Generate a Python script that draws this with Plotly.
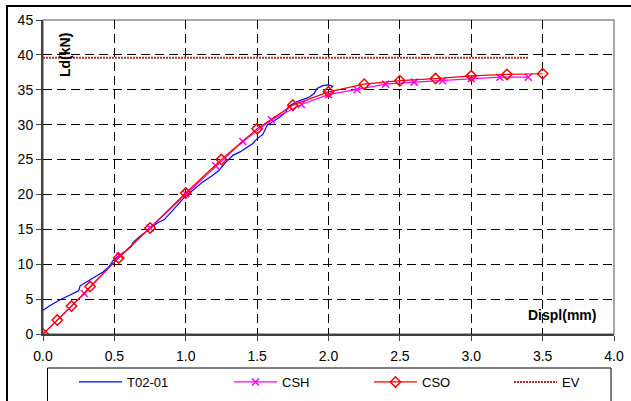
import plotly.graph_objects as go

# ---- data ----
t02_x = [0, 0.05, 0.12, 0.18, 0.25, 0.26, 0.30, 0.36, 0.42, 0.46, 0.49, 0.53, 0.58, 0.62, 0.63,
         0.68, 0.75, 0.80, 0.85, 0.89, 0.95, 1.00, 1.05, 1.12, 1.18, 1.23, 1.28, 1.33, 1.38, 1.43,
         1.47, 1.50, 1.54, 1.57, 1.62, 1.66, 1.70, 1.72, 1.78, 1.83, 1.87, 1.90, 1.92, 1.96, 2.00,
         2.03, 2.02]
t02_y = [3.4, 4.1, 4.9, 5.5, 6.2, 6.9, 7.4, 8.1, 8.9, 9.6, 10.5, 11.2, 11.9, 12.6, 13.1,
         14.0, 15.1, 15.9, 16.4, 17.3, 18.8, 19.8, 20.6, 21.8, 22.6, 23.4, 24.6, 25.6, 26.1, 26.7,
         27.3, 28.0, 28.6, 29.9, 30.6, 31.1, 31.8, 32.6, 33.3, 33.7, 34.0, 34.5, 35.2, 35.6, 35.7,
         35.5, 35.3]

csh_x = [0, 0.29, 0.54, 0.75, 1.0, 1.21, 1.40, 1.60, 1.81, 2.0, 2.2, 2.4, 2.6, 2.8, 3.0, 3.2, 3.4]
csh_y = [0, 5.8, 11.2, 15.2, 20.1, 24.1, 27.6, 30.7, 32.9, 34.3, 35.0, 35.8, 36.1, 36.3, 36.6, 36.8, 36.8]

cso_x = [0, 0.1, 0.2, 0.33, 0.53, 0.75, 1.0, 1.25, 1.5, 1.75, 2.0, 2.25, 2.5, 2.75, 3.0, 3.25, 3.5]
cso_y = [0, 2.0, 4.0, 6.8, 10.9, 15.2, 20.2, 25.0, 29.4, 32.8, 34.7, 35.8, 36.3, 36.6, 37.0, 37.2, 37.3]

ev_x = [0, 3.4]
ev_y = [39.6, 39.6]

x_ticks = [0, 0.5, 1.0, 1.5, 2.0, 2.5, 3.0, 3.5, 4.0]
x_tick_text = ["0.0", "0.5", "1.0", "1.5", "2.0", "2.5", "3.0", "3.5", "4.0"]
y_ticks = [0, 5, 10, 15, 20, 25, 30, 35, 40, 45]

FONT = "Liberation Sans, Arial, sans-serif"

fig = go.Figure()
fig.add_trace(go.Scatter(x=t02_x, y=t02_y, mode="lines", name="T02-01", legend="legend",
                         line=dict(color="#0000FF", width=1.2)))
fig.add_trace(go.Scatter(x=csh_x, y=csh_y, mode="lines+markers", name="CSH", legend="legend2",
                         line=dict(color="#FF00FF", width=1.2),
                         marker=dict(symbol="x-thin-open", size=7,
                                     line=dict(color="#FF00FF", width=1.5), color="#FF00FF")))
fig.add_trace(go.Scatter(x=cso_x, y=cso_y, mode="lines+markers", name="CSO", legend="legend3",
                         line=dict(color="#FF0000", width=1.2),
                         marker=dict(symbol="diamond-open", size=8,
                                     line=dict(color="#FF0000", width=1.5), color="#FF0000")))
fig.add_trace(go.Scatter(x=ev_x, y=ev_y, mode="lines", name="EV", legend="legend4",
                         line=dict(color="#A83232", width=2, dash="2px,1px")))

W, H = 631, 401
L, R, T, B = 43, 17, 20, 67
pw, ph = W - L - R, H - T - B

def px(xp):
    return (xp - L) / pw

def py(yp):
    return (H - B - yp) / ph

shapes = [
    # plot area border (gray, top/right)
    dict(type="rect", xref="paper", yref="paper", x0=0, x1=1, y0=0, y1=1,
         line=dict(color="#8C8C8C", width=1.5), layer="below"),
    # outer chart border (cropped)
    dict(type="rect", xref="paper", yref="paper", x0=px(7), x1=px(645), y0=py(415), y1=py(6),
         line=dict(color="#000000", width=2)),
    # legend box
    dict(type="rect", xref="paper", yref="paper", x0=px(47.5), x1=px(611), y0=py(412), y1=py(368),
         line=dict(color="#000000", width=1)),
]

axis_common = dict(
    showgrid=True, gridcolor="#000000", gridwidth=1, griddash="9px,5px",
    showline=True, linecolor="#404040", linewidth=2,
    ticks="outside", ticklen=5, tickwidth=1, tickcolor="#404040",
    tickfont=dict(family=FONT, size=14, color="#000000"),
    zeroline=False, layer="below traces", automargin=False,
)

def leg(xpix):
    return dict(orientation="h", x=px(xpix), y=py(367), xanchor="left", yanchor="top",
                bgcolor="rgba(0,0,0,0)", borderwidth=0,
                font=dict(family=FONT, size=13, color="#000000"), itemwidth=43)

fig.update_layout(
    width=W, height=H,
    margin=dict(l=L, r=R, t=T, b=B, pad=0, autoexpand=False),
    paper_bgcolor="white", plot_bgcolor="white",
    xaxis=dict(range=[0, 4.0], tickvals=x_ticks, ticktext=x_tick_text,
               ticklabelstandoff=3, **axis_common),
    yaxis=dict(range=[0, 45], tickvals=y_ticks, **axis_common),
    showlegend=True,
    legend=leg(74), legend2=leg(229), legend3=leg(369), legend4=leg(509),
    shapes=shapes,
    annotations=[
        dict(text="<b>Ld(kN)</b>", xref="paper", yref="paper", x=px(65), y=py(55),
             xanchor="center", yanchor="middle",
             textangle=-90, showarrow=False, font=dict(family=FONT, size=14, color="#000000")),
        dict(text="<b>Displ(mm)</b>", xref="paper", yref="paper", x=px(562), y=py(315),
             xanchor="center", yanchor="middle",
             showarrow=False, font=dict(family=FONT, size=14, color="#000000")),
    ],
)

fig.write_html("out.html", config={"displayModeBar": False},
               post_script="document.body.style.margin='0';")
